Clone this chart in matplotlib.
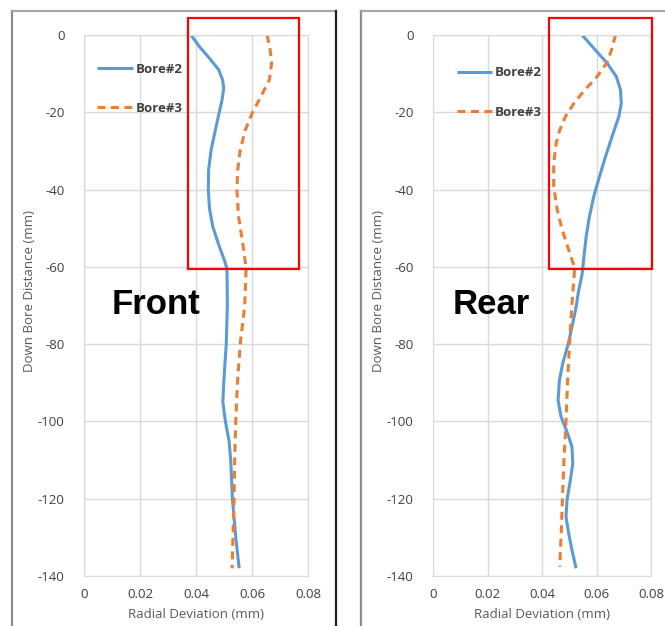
import matplotlib
matplotlib.use("Agg")
from matplotlib import pyplot as plt
from matplotlib.patches import Rectangle
from matplotlib.lines import Line2D

plt.rcParams['font.family'] = ['Open Sans', 'DejaVu Sans']
plt.rcParams['axes.unicode_minus'] = False

# Front panel
front_b2_depth = [0, -3, -6, -9, -11.6, -13.8, -16.8, -20, -25, -29.7, -34.9, -40, -44.8,
                  -49.6, -54.7, -58.2, -60.3, -62, -70, -80, -90, -95, -100, -105, -110,
                  -120, -130, -138]
front_b2_dev = [0.0382, 0.0412, 0.0448, 0.0481, 0.0495, 0.0499, 0.0493, 0.0483, 0.0468, 0.0454,
                0.0445, 0.0444, 0.0448, 0.0460, 0.0483, 0.0501, 0.0510, 0.0511, 0.0512, 0.0508,
                0.0499, 0.0496, 0.0505, 0.0518, 0.0524, 0.0530, 0.0542, 0.0554]
front_b3_depth = [0, -3.9, -7.3, -11.6, -15.9, -20, -24.6, -29.7, -34.9, -40, -47, -53.9,
                  -60.3, -70, -80, -90, -100, -110, -120, -130, -138]
front_b3_dev = [0.0654, 0.0665, 0.0670, 0.0662, 0.0632, 0.0602, 0.0576, 0.0558, 0.0549, 0.0546,
                0.0552, 0.0567, 0.0579, 0.0574, 0.0558, 0.0548, 0.0542, 0.0538, 0.0536, 0.0532,
                0.0529]

# Rear panel
rear_b2_depth = [0, -3.9, -7.3, -10.8, -14.2, -17.7, -21.1, -26.3, -31.5, -36.6, -41.8, -47,
                 -52.2, -57.3, -62, -66, -71.2, -75.5, -80, -85, -89.3, -94.5, -98.8, -103.1,
                 -106.6, -110.9, -115.2, -120.2, -124.7, -129, -133.3, -138]
rear_b2_dev = [0.0547, 0.0596, 0.0639, 0.0673, 0.0688, 0.0691, 0.0682, 0.0657, 0.0633, 0.0611,
               0.0590, 0.0574, 0.0562, 0.0554, 0.0547, 0.0535, 0.0523, 0.0510, 0.0496, 0.0476,
               0.0464, 0.0459, 0.0470, 0.0494, 0.0510, 0.0513, 0.0504, 0.0492, 0.0488, 0.0498,
               0.0510, 0.0525]
rear_b3_depth = [0, -3.9, -7.3, -10.8, -14.2, -17.7, -21.1, -24.6, -28, -33.2, -39.2, -45.3,
                 -50.4, -55.6, -60.3, -69.5, -80, -89.3, -100, -110.9, -120.2, -129.8, -137.6]
rear_b3_dev = [0.0670, 0.0655, 0.0637, 0.0602, 0.0557, 0.0517, 0.0486, 0.0465, 0.0452, 0.0443,
               0.0443, 0.0456, 0.0474, 0.0498, 0.0520, 0.0510, 0.0501, 0.0494, 0.0488, 0.0480,
               0.0475, 0.0470, 0.0465]

x_ticks = [0, 0.02, 0.04, 0.06, 0.08]
x_labels = ["0", "0.02", "0.04", "0.06", "0.08"]
y_ticks = [0, -20, -40, -60, -80, -100, -120, -140]

BLUE = "#5B9BD5"
ORANGE = "#ED7D31"
W, H = 665, 626

fig = plt.figure(figsize=(6.65, 6.26), dpi=100)
fig.patch.set_facecolor("white")


def fx(px):
    return px / W


def fy(py):
    return 1 - py / H


panels = [
    dict(left=84, right=308, title="Front", b2=(front_b2_dev, front_b2_depth),
         b3=(front_b3_dev, front_b3_depth), box=(0.0371, 0.0768), text_x=0.0257,
         leg=(0.058, 0.949), ylab_x=30),
    dict(left=433, right=651, title="Rear", b2=(rear_b2_dev, rear_b2_depth),
         b3=(rear_b3_dev, rear_b3_depth), box=(0.0426, 0.0804), text_x=0.0213,
         leg=(0.109, 0.942), ylab_x=378),
]

for p in panels:
    ax = fig.add_axes([fx(p["left"]), fy(576), fx(p["right"] - p["left"]), (576 - 35) / H])
    ax.plot(p["b2"][0], p["b2"][1], color=BLUE, lw=2.2, label="Bore#2",
            solid_joinstyle="round", solid_capstyle="butt")
    ax.plot(p["b3"][0], p["b3"][1], color=ORANGE, lw=2.2, label="Bore#3",
            linestyle=(0, (2.6, 1.8)), dash_capstyle="butt")
    ax.set_xlim(0, 0.08)
    ax.set_ylim(-140, 0)
    ax.set_xticks(x_ticks)
    ax.set_xticklabels(x_labels)
    ax.set_yticks(y_ticks)
    ax.grid(True, color="#d9d9d9", lw=1)
    ax.set_axisbelow(True)
    for s in ax.spines.values():
        s.set_color("#d9d9d9")
    ax.tick_params(length=0, labelsize=9.5, colors="#404040")
    ax.tick_params(axis="y", pad=14)
    ax.tick_params(axis="x", pad=9)

    x0, x1 = p["box"]
    ax.add_patch(Rectangle((x0, -60.5), x1 - x0, 64.9, fill=False, edgecolor="#FF0000",
                           lw=1.6, clip_on=False, zorder=5))
    ax.text(p["text_x"], -69.8, p["title"], fontsize=25, fontweight="bold",
            family=["Liberation Sans", "DejaVu Sans"], ha="center", va="center", color="black")

    ax.legend(loc="upper left", bbox_to_anchor=p["leg"], frameon=False, borderpad=0,
              borderaxespad=0, handlelength=2.7, handletextpad=0.2, labelspacing=2.0,
              prop=dict(size=9.5, weight="bold"), labelcolor="#404040")

    ax.set_xlabel("Radial Deviation (mm)", fontsize=9.5, color="#595959", labelpad=5)
    fig.text(fx(p["ylab_x"]), fy(291), "Down Bore Distance (mm)", rotation=90,
             fontsize=9.5, color="#595959", ha="center", va="center")

# panel frames
frame = [
    ((12, 12), (11, 626), "#8c8c8c"),
    ((12, 336), (11, 11), "#a6a6a6"),
    ((336, 336), (11, 626), "#202020"),
    ((361, 361), (11, 626), "#8c8c8c"),
    ((361, 665), (11, 11), "#a6a6a6"),
]
for xs, ys, c in frame:
    fig.add_artist(Line2D([fx(xs[0]), fx(xs[1])], [fy(ys[0]), fy(ys[1])], color=c, lw=1.6,
                          transform=fig.transFigure))

fig.savefig("out.png", dpi=100)
